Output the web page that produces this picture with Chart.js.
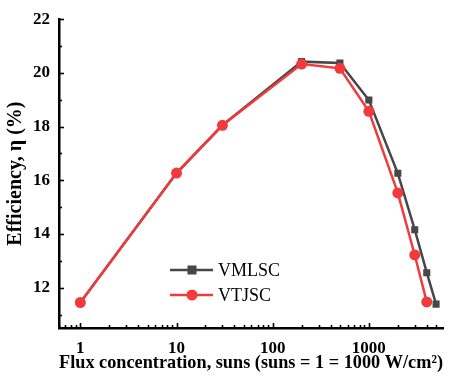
<!DOCTYPE html>
<html><head><meta charset="utf-8">
<script src="https://cdn.jsdelivr.net/npm/chart.js@4/dist/chart.umd.min.js"></script>
<style>html,body{margin:0;padding:0;background:#fff}#wrap{width:451px;height:378px}</style>
</head><body><div id="wrap"><canvas id="c" width="451" height="378"></canvas></div>
<script>
const fluxVMLSC = [1, 10, 30, 200, 500, 1000, 2000, 3000, 4000, 5000];
const effVMLSC  = [11.45, 16.27, 18.05, 20.42, 20.37, 18.99, 16.26, 14.16, 12.56, 11.39];
const fluxVTJSC = [1, 10, 30, 200, 500, 1000, 2000, 3000, 4000];
const effVTJSC  = [11.45, 16.27, 18.05, 20.33, 20.17, 18.57, 15.53, 13.22, 11.47];
const seriesNames = ['VMLSC', 'VTJSC'];
const xMajorTicks = [1, 10, 100, 1000];
const yMajorTicks = [12, 14, 16, 18, 20, 22];

const FONT = '"Liberation Serif","Times New Roman",serif';
const toPts = (xs, ys) => xs.map((x, i) => ({x: x, y: ys[i]}));

const tickPlugin = {
  id: 'inTicks',
  afterDatasetsDraw(chart) {
    const ctx = chart.ctx, xs = chart.scales.x, ys = chart.scales.y, a = chart.chartArea;
    ctx.save();
    ctx.strokeStyle = '#000';
    ctx.lineWidth = 1.6;
    for (let v = Math.ceil(ys.min); v <= ys.max + 1e-9; v++) {
      const py = Math.round(ys.getPixelForValue(v)) + 0.5;
      const len = (v % 2 === 0) ? 5 : 3;
      ctx.beginPath(); ctx.moveTo(a.left, py); ctx.lineTo(a.left + len, py); ctx.stroke();
    }
    for (let d = Math.floor(Math.log10(xs.min)); d <= Math.ceil(Math.log10(xs.max)); d++) {
      for (let m = 1; m <= 9; m++) {
        const v = m * Math.pow(10, d);
        if (v < xs.min || v > xs.max) continue;
        const px = Math.round(xs.getPixelForValue(v)) + 0.5;
        const len = (m === 1) ? 5 : 3;
        ctx.beginPath(); ctx.moveTo(px, a.bottom); ctx.lineTo(px, a.bottom - len); ctx.stroke();
      }
    }
    const ds = chart.data.datasets;
    const lx = 170, ly0 = 270, gap = 25;
    ds.forEach((d, i) => {
      const y = ly0 + i * gap;
      ctx.strokeStyle = d.borderColor; ctx.lineWidth = d.borderWidth;
      ctx.beginPath(); ctx.moveTo(lx, y); ctx.lineTo(lx + 43, y); ctx.stroke();
      ctx.fillStyle = d.pointBackgroundColor;
      if (d.pointStyle === 'rect') {
        const s = 9; ctx.fillRect(lx + 22 - s/2, y - s/2, s, s);
      } else {
        ctx.beginPath(); ctx.arc(lx + 22, y, 5.5, 0, Math.PI * 2); ctx.fill();
      }
      ctx.fillStyle = '#000';
      ctx.font = '18px ' + FONT;
      ctx.textBaseline = 'middle'; ctx.textAlign = 'left';
      ctx.fillText(d.label, lx + 48, y + 1);
    });
    ctx.restore();
  }
};

new Chart(document.getElementById('c'), {
  type: 'line',
  data: {
    datasets: [
      {label: seriesNames[0], data: toPts(fluxVMLSC, effVMLSC), borderColor: '#474747', backgroundColor: '#474747',
       pointBackgroundColor: '#474747', pointBorderColor: '#474747', pointStyle: 'rect', pointRadius: 5, pointBorderWidth: 0,
       borderWidth: 2.5, order: 2, tension: 0},
      {label: seriesNames[1], data: toPts(fluxVTJSC, effVTJSC), borderColor: '#f03a3c', backgroundColor: '#f03a3c',
       pointBackgroundColor: '#f03a3c', pointBorderColor: '#f03a3c', pointStyle: 'circle', pointRadius: 5.5, pointBorderWidth: 0,
       borderWidth: 2.5, order: 1, tension: 0}
    ]
  },
  options: {
    responsive: false, animation: false, devicePixelRatio: 1,
    layout: {padding: {left: 0, right: 8, top: 17, bottom: 0}},
    plugins: {legend: {display: false}, tooltip: {enabled: false}},
    scales: {
      x: {
        type: 'logarithmic', min: 0.62, max: 5900,
        grid: {display: false, drawTicks: false},
        border: {display: true, color: '#000', width: 2.5},
        afterBuildTicks(s) { s.ticks = xMajorTicks.map(v => ({value: v})); },
        afterFit(s) { s.height = 50; },
        ticks: {color: '#000', padding: 10, maxRotation: 0, autoSkip: false,
          font: {family: FONT, size: 17, weight: 'bold'}, callback: v => String(v)},
        title: {display: true, text: 'Flux concentration, suns (suns = 1 = 1000 W/cm²)', color: '#000',
          font: {family: FONT, size: 19, weight: 'bold'}, padding: {top: 0, bottom: 4}}
      },
      y: {
        min: 10.5, max: 22,
        grid: {display: false, drawTicks: false},
        border: {display: true, color: '#000', width: 2.5},
        afterBuildTicks(s) { s.ticks = yMajorTicks.map(v => ({value: v})); },
        afterFit(s) { s.width = 59; },
        ticks: {color: '#000', padding: 9, font: {family: FONT, size: 17, weight: 'bold'}},
        title: {display: true, text: 'Efficiency, η (%)', color: '#000',
          font: {family: FONT, size: 20, weight: 'bold'}, padding: {top: 4, bottom: 0}}
      }
    }
  },
  plugins: [tickPlugin]
});
</script></body></html>
